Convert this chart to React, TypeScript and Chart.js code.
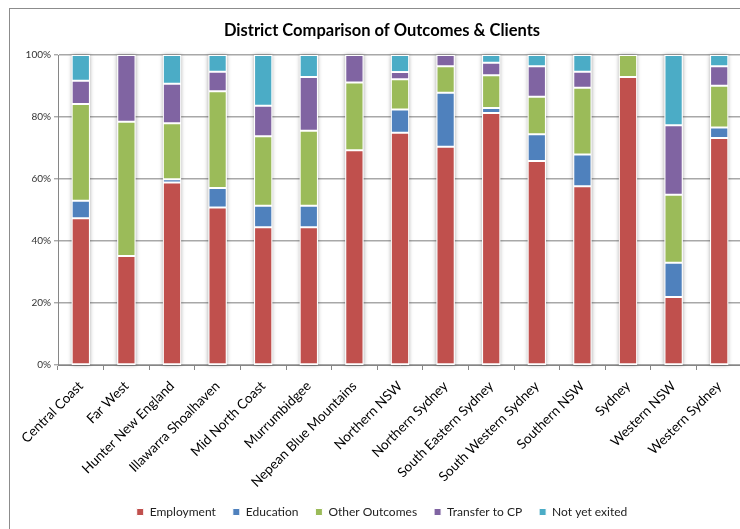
import React, { useEffect, useRef } from "react";
import { Chart, registerables } from "chart.js";

Chart.register(...registerables);

const districts = [
  "Central Coast",
  "Far West",
  "Hunter New England",
  "Illawarra Shoalhaven",
  "Mid North Coast",
  "Murrumbidgee",
  "Nepean Blue Mountains",
  "Northern NSW",
  "Northern Sydney",
  "South Eastern Sydney",
  "South Western Sydney",
  "Southern NSW",
  "Sydney",
  "Western NSW",
  "Western Sydney",
];

const employment = [47.3, 35.2, 58.9, 50.8, 44.4, 44.4, 69.3, 74.9, 70.4, 81.3, 65.8, 57.7, 92.9, 21.9, 73.2];
const education = [5.7, 0, 1.0, 6.3, 7.0, 7.0, 0, 7.5, 17.4, 1.6, 8.6, 10.2, 0, 11.1, 3.4];
const otherOutcomes = [31.2, 43.3, 18.1, 31.2, 22.4, 24.2, 21.8, 9.8, 8.6, 10.6, 12.1, 21.5, 7.1, 21.9, 13.5];
const transferToCP = [7.5, 21.5, 12.7, 6.3, 9.8, 17.3, 8.9, 2.3, 3.6, 4.0, 9.9, 5.2, 0, 22.4, 6.3];
const notYetExited = [8.3, 0, 9.3, 5.4, 16.4, 7.1, 0, 5.5, 0, 2.5, 3.6, 5.4, 0, 22.7, 3.6];

const seriesNames = ["Employment", "Education", "Other Outcomes", "Transfer to CP", "Not yet exited"];
const seriesColors = ["#C0504D", "#4F81BD", "#9BBB59", "#8064A2", "#4BACC6"];
const yTicks = [0, 20, 40, 60, 80, 100];

const FONT = "Lato, 'Open Sans', sans-serif";

const shadowPlugin = {
  id: "barShadow",
  beforeDatasetsDraw(chart: any) {
    const ctx = chart.ctx;
    const meta0 = chart.getDatasetMeta(0);
    const yScale = chart.scales.y;
    ctx.save();
    ctx.shadowColor = "rgba(0,0,0,0.35)";
    ctx.shadowBlur = 4;
    ctx.fillStyle = "#ffffff";
    meta0.data.forEach((el: any, i: number) => {
      let total = 0;
      chart.data.datasets.forEach((ds: any) => {
        total += ds.data[i] || 0;
      });
      const top = yScale.getPixelForValue(total);
      const bottom = yScale.getPixelForValue(0);
      const w = el.width;
      ctx.fillRect(el.x - w / 2, top, w, bottom - top);
    });
    ctx.restore();
  },
};

export default function App() {
  const ref = useRef<HTMLCanvasElement | null>(null);

  useEffect(() => {
    if (!ref.current) return;
    const allSeries = [employment, education, otherOutcomes, transferToCP, notYetExited];
    const chart = new Chart(ref.current, {
      type: "bar",
      data: {
        labels: districts,
        datasets: allSeries.map((d, i) => ({
          label: seriesNames[i],
          data: d,
          backgroundColor: seriesColors[i],
          borderColor: "#ffffff",
          borderWidth: 1,
          borderSkipped: false,
          categoryPercentage: 1,
          barPercentage: 0.4,
        })),
      },
      plugins: [shadowPlugin],
      options: {
        animation: false,
        responsive: false,
        maintainAspectRatio: false,
        layout: { padding: { left: 22, right: 18, top: 0, bottom: 1 } },
        plugins: {
          title: {
            display: true,
            text: "District Comparison of Outcomes & Clients",
            color: "#000",
            font: { family: FONT, size: 16.5, weight: "bold", lineHeight: 1.2 },
            padding: { top: 21, bottom: 14.2 },
          },
          legend: {
            display: true,
            position: "bottom",
            labels: {
              boxWidth: 7,
              boxHeight: 7,
              padding: 17,
              color: "#222",
              font: { family: FONT, size: 12 },
            },
          },
          tooltip: { enabled: false },
        },
        scales: {
          x: {
            stacked: true,
            offset: true,
            grid: {
              display: true,
              drawOnChartArea: false,
              drawTicks: true,
              tickLength: 5,
              color: "#868686",
            },
            border: { display: true, color: "#868686", width: 1 },
            ticks: {
              autoSkip: false,
              maxRotation: 45,
              minRotation: 45,
              color: "#000",
              font: { family: FONT, size: 13.5 },
              padding: 8,
            },
            afterFit(scale: any) {
              scale.height = 124;
            },
          },
          y: {
            stacked: true,
            min: 0,
            max: 100,
            afterBuildTicks(scale: any) {
              scale.ticks = yTicks.map((v) => ({ value: v }));
            },
            ticks: {
              callback: (v: any) => v + "%",
              color: "#333",
              font: { family: FONT, size: 10 },
              padding: 3,
            },
            grid: {
              color: "#a8a8a8",
              lineWidth: 1.6,
              tickLength: 4,
              tickColor: "#868686",
              tickWidth: 1,
            },
            border: { display: true, color: "#868686", width: 1 },
            afterFit(scale: any) {
              scale.width = 36;
            },
          },
        },
      },
    });
    return () => chart.destroy();
  }, []);

  return (
    <div
      style={{
        position: "fixed",
        left: 0,
        top: 0,
        width: 740,
        height: 529,
        overflow: "hidden",
        background: "#fff",
      }}
    >
      <div
        style={{
          position: "absolute",
          left: 9,
          top: 8,
          width: 800,
          height: 600,
          border: "1px solid #8c8c8c",
        }}
      />
      <canvas
        ref={ref}
        width={760}
        height={529}
        style={{ position: "absolute", left: 0, top: 0, width: 760, height: 529 }}
      />
    </div>
  );
}
